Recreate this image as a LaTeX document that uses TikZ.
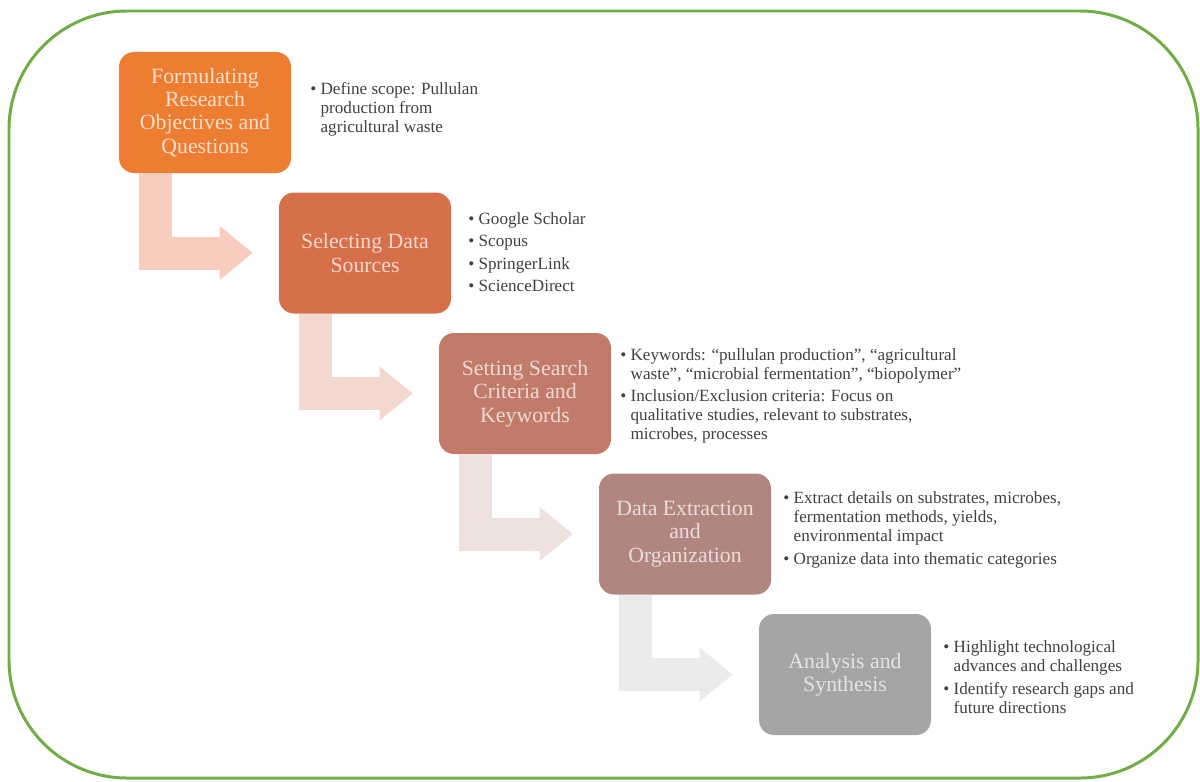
\documentclass[tikz,border=0pt]{standalone}
\usepackage{fontspec}
\setmainfont{Liberation Serif}
\usetikzlibrary{arrows.meta}

\definecolor{stageA}{RGB}{237,125,49}
\definecolor{stageB}{RGB}{214,112,74}
\definecolor{stageC}{RGB}{194,122,106}
\definecolor{stageD}{RGB}{178,134,128}
\definecolor{stageE}{RGB}{165,165,165}
\definecolor{turnA}{RGB}{248,204,190}
\definecolor{turnB}{RGB}{243,216,207}
\definecolor{turnC}{RGB}{239,225,222}
\definecolor{turnD}{RGB}{236,235,235}
\definecolor{frame}{RGB}{112,173,71}
\definecolor{infotxt}{RGB}{64,64,64}

\newcommand{\bul}{\makebox[0.6em][l]{•}}
\newcommand{\ind}{\hspace*{0.6em}}

\begin{document}
\begin{tikzpicture}[
		stagebox/.style={rounded corners=0.3cm, minimum width=3.44cm, minimum height=2.42cm, inner sep=2pt, align=center, font=\fontsize{12.4}{13.3}\selectfont},
		info/.style={anchor=west, align=left, inner sep=0pt, text=infotxt, font=\fontsize{9.75}{10.8}\selectfont},
		turnarrow/.style={line width=0.66cm, line join=miter, -{Triangle[length=0.66cm, width=1.08cm, line width=0pt]}}
	]
		\useasboundingbox (0,0) rectangle (24,-15.62);
		\draw[frame, line width=1.7pt, rounded corners=2.36cm] (0.18,-0.22) rectangle (23.96,-15.56);

		\node[stagebox, fill=stageA, text=white!75!stageA] (box1) at (4.1,-2.25) {Formulating\\Research\\Objectives and\\Questions};
		\node[stagebox, fill=stageB, text=white!72!stageB] (box2) at (7.3,-5.06) {Selecting Data\\Sources};
		\node[stagebox, fill=stageC, text=white!72!stageC] (box3) at (10.5,-7.87) {Setting Search\\Criteria and\\Keywords};
		\node[stagebox, fill=stageD, text=white!72!stageD] (box4) at (13.7,-10.68) {Data Extraction\\and\\Organization};
		\node[stagebox, fill=stageE, text=white!70!stageE] (box5) at (16.9,-13.49) {Analysis and\\Synthesis};

		\draw[turnarrow, turnA] ([xshift=0.74cm]box1.south west) |- ([xshift=-0.52cm]box2.west);
		\draw[turnarrow, turnB] ([xshift=0.74cm]box2.south west) |- ([xshift=-0.52cm]box3.west);
		\draw[turnarrow, turnC] ([xshift=0.74cm]box3.south west) |- ([xshift=-0.52cm]box4.west);
		\draw[turnarrow, turnD] ([xshift=0.74cm]box4.south west) |- ([xshift=-0.52cm]box5.west);

		\node[info] (txt1) at (6.2,-2.18) {\bul Define scope: Pullulan\\ \ind production from\\ \ind agricultural waste};
		\node[info] (txt2) at (9.36,-5.04) {\bul Google Scholar\\[2pt] \bul Scopus\\[2pt] \bul SpringerLink\\[2pt] \bul ScienceDirect};
		\node[info] (txt3) at (12.4,-7.92) {\bul Keywords: “pullulan production”, “agricultural\\ \ind waste”, “microbial fermentation”, “biopolymer”\\[2pt] \bul Inclusion/Exclusion criteria: Focus on\\ \ind qualitative studies, relevant to substrates,\\ \ind microbes, processes};
		\node[info] (txt4) at (15.66,-10.6) {\bul Extract details on substrates, microbes,\\ \ind fermentation methods, yields,\\ \ind environmental impact\\[2pt] \bul Organize data into thematic categories};
		\node[info] (txt5) at (18.86,-13.54) {\bul Highlight technological\\ \ind advances and challenges\\[2pt] \bul Identify research gaps and\\ \ind future directions};
	\end{tikzpicture}
\end{document}
